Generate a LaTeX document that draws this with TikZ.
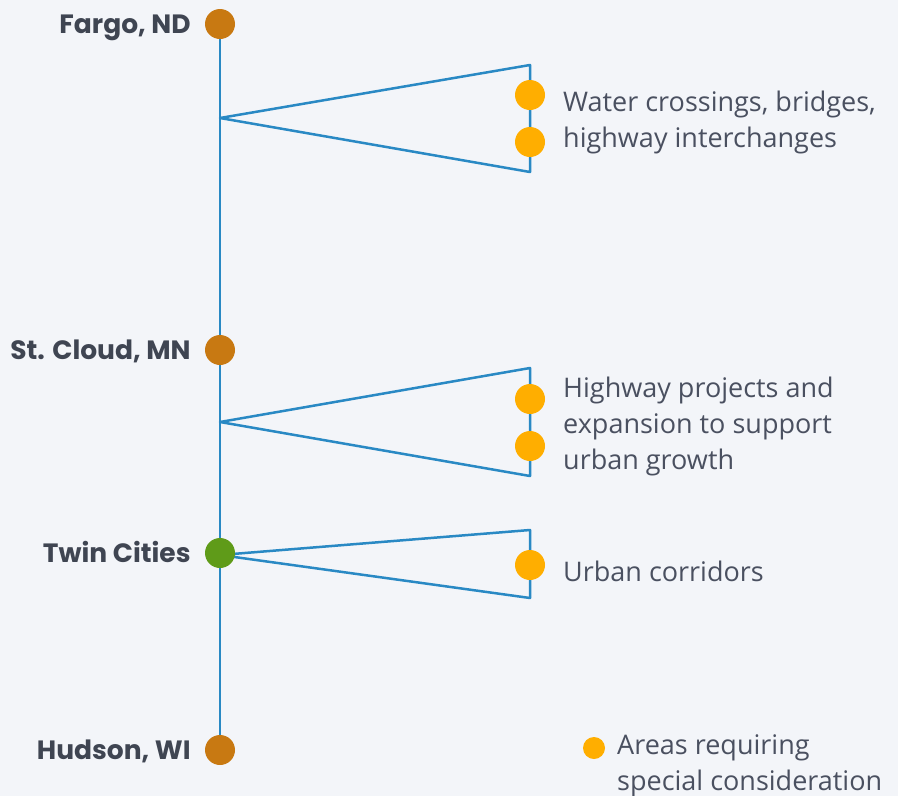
\documentclass[tikz,border=0pt]{standalone}
\usepackage{fontspec}
\setmainfont{Open Sans}
\newfontfamily\cityfont{Poppins}[UprightFont=* Bold]
\usetikzlibrary{positioning}
\definecolor{routeblue}{RGB}{41,137,196}
\definecolor{cityorange}{RGB}{200,121,18}
\definecolor{citygreen}{RGB}{95,155,25}
\definecolor{areayellow}{RGB}{255,174,0}
\definecolor{inkdark}{RGB}{63,69,82}
\definecolor{inknote}{RGB}{74,80,96}
\definecolor{paper}{RGB}{243,245,249}

\begin{document}
\begin{tikzpicture}[
x=1pt, y=-1pt,
citydot/.style={
  circle,
  inner sep=0pt,
  minimum size=30pt
  },
areadot/.style={
  circle,
  fill=areayellow,
  inner sep=0pt,
  minimum size=30pt
  },
citylabel/.style={
  inner sep=0pt,
  text height=18.5pt,
  text depth=0pt,
  text=inkdark,
  font=\cityfont\fontsize{26.5}{30}\selectfont
  },
note/.style={
  anchor=west,
  inner sep=0pt,
  align=left,
  text=inknote,
  font=\fontsize{27}{36}\selectfont
  },
route/.style={
  draw=routeblue,
  line width=2.5pt,
  line join=round
  }
]
\fill[paper] (0,0) rectangle (898,796);
\useasboundingbox (0,0) rectangle (898,796);
% stops along the route
\coordinate (fargo) at (220,24);
\coordinate (stcloud) at (220,350);
\coordinate (twin) at (220,553);
\coordinate (hudson) at (220,750);
\draw[route] (fargo) -- (hudson);
% corridor wedges
\coordinate (apexA) at (220,118);
\coordinate (topA) at (530,65);
\coordinate (botA) at (530,172);
\coordinate (apexB) at (220,422);
\coordinate (topB) at (530,368);
\coordinate (botB) at (530,476);
\coordinate (apexC) at (220,555);
\coordinate (topC) at (530,530);
\coordinate (botC) at (530,598);
\draw[route] (apexA) -- (topA) -- (botA) -- cycle;
\draw[route] (apexB) -- (topB) -- (botB) -- cycle;
\draw[route] (apexC) -- (topC) -- (botC) -- cycle;
\node[citydot, fill=cityorange] (fargoDot) at (fargo) {};
\node[citydot, fill=cityorange] (stcloudDot) at (stcloud) {};
\node[citydot, fill=citygreen] (twinDot) at (twin) {};
\node[citydot, fill=cityorange] (hudsonDot) at (hudson) {};
\node[citylabel, left=14pt of fargoDot] (fargoLbl) {Fargo, ND};
\node[citylabel, left=14pt of stcloudDot] (stcloudLbl) {St. Cloud, MN};
\node[citylabel, left=14pt of twinDot] (twinLbl) {Twin Cities};
\node[citylabel, left=14pt of hudsonDot] (hudsonLbl) {Hudson, WI};
% special areas
\node[areadot] (areaA1) at (530,95) {};
\node[areadot] (areaA2) at (530,142) {};
\node[areadot] (areaB1) at (530,399) {};
\node[areadot] (areaB2) at (530,446) {};
\node[areadot] (areaC1) at (530,565) {};
\node[note] (noteA) at (563,122) {Water crossings, bridges,\\highway interchanges};
\node[note] (noteB) at (563,426) {Highway projects and\\expansion to support\\urban growth};
\node[note] (noteC) at (563,571) {Urban corridors};
% legend
\node[areadot, minimum size=22pt] (legendDot) at (594,748) {};
\node[note] (legendNote) at (617,766) {Areas requiring\\special consideration};
\end{tikzpicture}
\end{document}
